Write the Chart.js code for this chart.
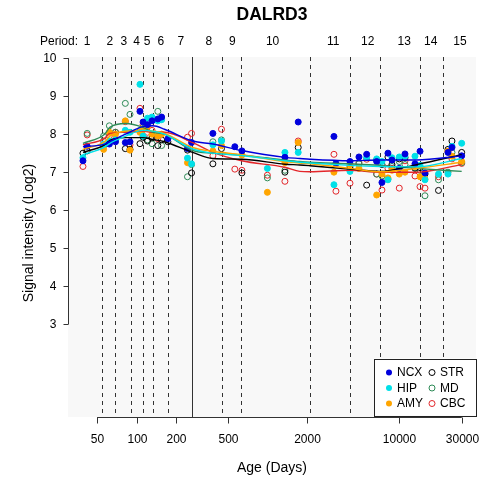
<!DOCTYPE html>
<html><head><meta charset="utf-8">
<script src="https://cdn.jsdelivr.net/npm/chart.js@4/dist/chart.umd.min.js"></script>
<style>html,body{margin:0;padding:0;background:#fff}#wrap{width:481px;height:481px}</style>
</head><body><div id="wrap"><canvas id="c" width="481" height="481"></canvas></div>
<script>
// Donor ages (days post conception) and per-region expression (log2)
const donorAges = [39, 42, 56, 62, 69, 82, 89, 106, 112, 121, 131, 145, 155, 173, 244, 262,
  381, 443, 560, 634, 991, 1348, 1702, 3186, 3300, 4220, 4940, 5655, 6740, 7396, 8216, 8812,
  10020, 11080, 13200, 14420, 15730, 19940, 23550, 25260, 29950];
const ncx = [7.30, 7.68, null, 7.74, 7.80, 7.78, 7.80, 8.60, 8.32, 8.25, 8.35, 8.40, 8.45, 7.88, 7.62, 7.78,
  8.02, null, 7.67, 7.56, null, 7.39, 8.32, 7.94, 7.23, 7.28, 7.40, 7.47, 7.28, 6.73, 7.50, 7.32,
  7.10, 7.48, 7.22, 7.55, 6.98, null, 7.52, 7.65, 7.43];
const hip = [7.38, null, 7.74, 7.82, 7.85, 8.10, 8.05, 9.31, 7.95, 8.42, 8.45, 8.35, 8.38, null, 7.37, 7.22,
  7.72, 7.82, null, null, 7.10, 7.52, 7.52, 6.67, null, 7.02, null, 7.38, 7.35, 7.28, 6.80, 7.38,
  7.40, 7.42, 7.42, 7.18, 6.80, 6.95, 6.95, 7.68, 7.76];
const amy = [null, null, 7.60, 8.05, 8.00, 8.35, 7.58, 8.05, 8.12, 8.20, 8.00, 7.95, 8.00, null, 7.25, null,
  7.56, 7.70, null, 7.45, 6.47, 7.25, 7.78, 7.00, null, 7.20, 7.10, null, 6.40, 6.95, 6.85, 7.05,
  6.95, 7.00, 7.15, 6.88, 6.82, null, 7.55, 7.42, 7.28];
const str = [7.50, 7.56, 7.70, 7.80, null, 7.62, 7.60, 7.75, 7.92, 7.82, 7.90, 7.70, 7.85, 7.80, 7.58, 6.98,
  7.22, 7.62, null, 6.98, null, 7.00, 7.65, null, null, 7.10, null, 6.66, 7.32, 7.20, 7.40, 7.20,
  7.35, 7.38, 7.10, 7.12, 6.95, 6.52, 7.60, 7.82, 7.52];
const md = [null, 8.02, 7.95, 8.22, 8.05, 8.81, 8.52, 8.10, 8.15, 7.85, 7.75, 8.60, 7.70, null, 6.88, 7.20,
  7.80, 7.85, null, null, 6.85, 7.05, null, null, null, 7.15, 7.22, null, 6.95, 6.90, 6.82, 7.15,
  7.28, 7.20, 7.12, 7.05, 6.38, 6.80, 7.00, 7.52, 7.25];
const cbc = [7.15, 7.98, 7.82, 7.96, 8.05, 8.33, 7.72, 8.68, 8.25, 8.05, 8.10, 7.88, 8.40, null, 7.92, 8.02,
  7.43, 8.13, 7.08, 7.05, 6.92, 6.76, 7.82, 7.47, 6.50, 6.71, 7.25, 7.34, 6.95, 6.53, 7.10, 7.10,
  6.58, 7.30, 6.90, 6.62, 6.58, 6.88, 7.55, 7.35, 7.23];

// Smoothed trend per region, sampled at these ages
const fitAges = [39, 57, 62.5, 82.5, 111.5, 133, 163, 267, 381, 630, 1348, 1750, 2090, 4220, 7140, 13600, 29950];
const ncxFit = [7.67, 7.74, 7.81, 8.00, 8.20, 8.22, 8.13, 7.82, 7.74, 7.57, 7.39, 7.36, 7.34, 7.30, 7.32, 7.32, 7.43];
const hipFit = [7.46, 7.66, 7.76, 7.95, 8.10, 8.08, 8.00, 7.61, 7.50, 7.44, 7.30, 7.26, 7.24, 7.18, 7.15, 7.14, 7.36];
const amyFit = [7.60, 7.80, 7.95, 8.08, 8.10, 8.08, 8.02, 7.65, 7.55, 7.46, 7.28, 7.24, 7.22, 7.10, 7.01, 7.10, 7.26];
const strFit = [7.52, 7.72, 7.84, 7.91, 7.91, 7.86, 7.80, 7.52, 7.36, 7.34, 7.21, 7.19, 7.17, 7.08, 7.02, 7.20, 7.46];
const mdFit  = [7.76, 8.00, 8.18, 8.28, 8.18, 8.05, 8.00, 7.57, 7.50, 7.45, 7.32, 7.28, 7.26, 7.22, 7.18, 7.10, 7.02];
const cbcFit = [7.72, 7.89, 8.02, 8.05, 8.08, 8.05, 8.05, 7.78, 7.52, 7.30, 7.13, 7.02, 7.01, 7.05, 7.00, 7.00, 7.20];

// Developmental periods
const periodBounds = [54.6, 69, 89.8, 110.9, 132.1, 174, 265, 443.6, 626, 2090, 4242, 7140, 14420, 21700];
const birthAge = 265;
const periodLabelAges = [42, 62.5, 79.9, 99.8, 120, 153, 217, 355, 535, 1086, 3148, 5754, 10940, 17380, 29100];
const periodNames = ['1','2','3','4','5','6','7','8','9','10','11','12','13','14','15'];

const xTicks = [50, 100, 200, 500, 2000, 10000, 30000];
const yTicks = [3, 4, 5, 6, 7, 8, 9, 10];

const regionNames = ['NCX', 'HIP', 'AMY', 'STR', 'MD', 'CBC'];
const regionColors = ['#0000DD', '#00E0E8', '#FFA500', '#000000', '#2E8B57', '#E3262A'];
const regionFilled = [true, true, true, false, false, false];
const regionValues = [ncx, hip, amy, str, md, cbc];
const regionFits = [ncxFit, hipFit, amyFit, strFit, mdFit, cbcFit];

const FONT = '"Liberation Sans", Arial, Helvetica, sans-serif';

const datasets = [];
regionNames.forEach((name, r) => {
  const pts = [];
  donorAges.forEach((a, i) => { if (regionValues[r][i] != null) pts.push({x: a, y: regionValues[r][i]}); });
  datasets.push({
    label: name,
    data: pts,
    showLine: false,
    pointStyle: 'circle',
    pointRadius: 3,
    pointBorderWidth: 1,
    pointBackgroundColor: regionFilled[r] ? regionColors[r] : 'rgba(0,0,0,0)',
    pointBorderColor: regionColors[r],
    order: 2
  });
});
regionNames.forEach((name, r) => {
  datasets.push({
    label: name + ' fit',
    data: fitAges.map((a, i) => ({x: a, y: regionFits[r][i]})),
    showLine: true,
    pointRadius: 0,
    borderColor: regionColors[r],
    borderWidth: 1.4,
    cubicInterpolationMode: 'monotone',
    fill: false,
    order: 1
  });
});

const decor = {
  id: 'decor',
  beforeDraw(chart) {
    const {ctx, chartArea: a} = chart;
    ctx.save();
    ctx.fillStyle = '#ffffff';
    ctx.fillRect(0, 0, chart.width, chart.height);
    ctx.fillStyle = '#f8f8f8';
    ctx.fillRect(a.left, a.top, a.right - a.left, a.bottom - a.top);
    ctx.restore();
  },
  beforeDatasetsDraw(chart) {
    const {ctx, chartArea: a, scales: {x}} = chart;
    ctx.save();
    ctx.strokeStyle = '#333333';
    ctx.lineWidth = 1;
    periodBounds.forEach(b => {
      const px = Math.round(x.getPixelForValue(b)) + 0.5;
      ctx.setLineDash(b === birthAge ? [] : [4, 4]);
      ctx.beginPath();
      ctx.moveTo(px, a.top);
      ctx.lineTo(px, a.bottom);
      ctx.stroke();
    });
    ctx.restore();
  },
  afterDatasetsDraw(chart) {
    const {ctx, chartArea: a} = chart;
    // legend box in the lower right corner
    ctx.save();
    const w = 102, h = 57;
    const lx = a.right - w, ly = a.bottom - h - 1.5;
    ctx.fillStyle = '#ffffff';
    ctx.fillRect(lx, ly, w, h);
    ctx.strokeStyle = '#222';
    ctx.lineWidth = 1;
    ctx.strokeRect(Math.round(lx) + 0.5, Math.round(ly) + 0.5, w, h);
    ctx.font = '12px ' + FONT;
    ctx.textBaseline = 'middle';
    ctx.textAlign = 'left';
    regionNames.forEach((name, r) => {
      const col = r < 3 ? 0 : 1;
      const row = r % 3;
      const mx = lx + 15 + col * 43;
      const my = ly + 14 + row * 15.5;
      ctx.beginPath();
      ctx.arc(mx, my, 3, 0, Math.PI * 2);
      if (regionFilled[r]) { ctx.fillStyle = regionColors[r]; ctx.fill(); }
      else { ctx.strokeStyle = regionColors[r]; ctx.lineWidth = 1; ctx.stroke(); }
      ctx.fillStyle = '#000';
      ctx.fillText(name, mx + 8, my + 0.5);
    });
    ctx.restore();
  },
  afterDraw(chart) {
    const {ctx, chartArea: a, scales: {x, y}} = chart;
    ctx.save();
    ctx.strokeStyle = '#333';
    ctx.fillStyle = '#000';
    ctx.lineWidth = 1;
    // y axis
    const yx = a.left + 0.5;
    ctx.beginPath();
    ctx.moveTo(yx, y.getPixelForValue(yTicks[0]));
    ctx.lineTo(yx, y.getPixelForValue(yTicks[yTicks.length - 1]));
    ctx.stroke();
    ctx.font = '12px ' + FONT;
    ctx.textAlign = 'right';
    ctx.textBaseline = 'middle';
    yTicks.forEach(t => {
      const py = Math.round(y.getPixelForValue(t)) + 0.5;
      ctx.beginPath(); ctx.moveTo(yx, py); ctx.lineTo(yx - 5, py); ctx.stroke();
      ctx.fillText(String(t), yx - 12, py + 0.5);
    });
    // x axis
    const xy = a.bottom + 0.5;
    ctx.beginPath();
    ctx.moveTo(x.getPixelForValue(xTicks[0]), xy);
    ctx.lineTo(x.getPixelForValue(xTicks[xTicks.length - 1]), xy);
    ctx.stroke();
    ctx.textAlign = 'center';
    ctx.textBaseline = 'middle';
    xTicks.forEach(t => {
      const px = Math.round(x.getPixelForValue(t)) + 0.5;
      ctx.beginPath(); ctx.moveTo(px, xy); ctx.lineTo(px, xy + 6); ctx.stroke();
      ctx.fillText(String(t), px, xy + 22);
    });
    // axis titles
    ctx.font = '14px ' + FONT;
    ctx.fillText('Age (Days)', (a.left + a.right) / 2, 468);
    ctx.save();
    ctx.translate(29, (a.top + a.bottom) / 2 - 4);
    ctx.rotate(-Math.PI / 2);
    ctx.fillText('Signal intensity (Log2)', 0, 0);
    ctx.restore();
    // period labels above the plot
    ctx.font = '12px ' + FONT;
    ctx.textAlign = 'right';
    ctx.fillText('Period:', 78, 42);
    ctx.textAlign = 'center';
    periodLabelAges.forEach((ag, i) => {
      ctx.fillText(periodNames[i], x.getPixelForValue(ag), 42);
    });
    // title
    ctx.font = 'bold 17.5px ' + FONT;
    ctx.fillText('DALRD3', (a.left + a.right) / 2, 15);
    ctx.restore();
  }
};

new Chart(document.getElementById('c'), {
  type: 'scatter',
  data: { datasets },
  options: {
    responsive: false,
    animation: false,
    devicePixelRatio: 1,
    layout: { padding: { left: 68, top: 57, right: 5, bottom: 64 } },
    scales: {
      x: { type: 'logarithmic', min: 30, max: 38500, display: false },
      y: { type: 'linear', min: 0.56, max: 10.03, display: false }
    },
    plugins: { legend: { display: false }, tooltip: { enabled: false } }
  },
  plugins: [decor]
});
</script></body></html>
